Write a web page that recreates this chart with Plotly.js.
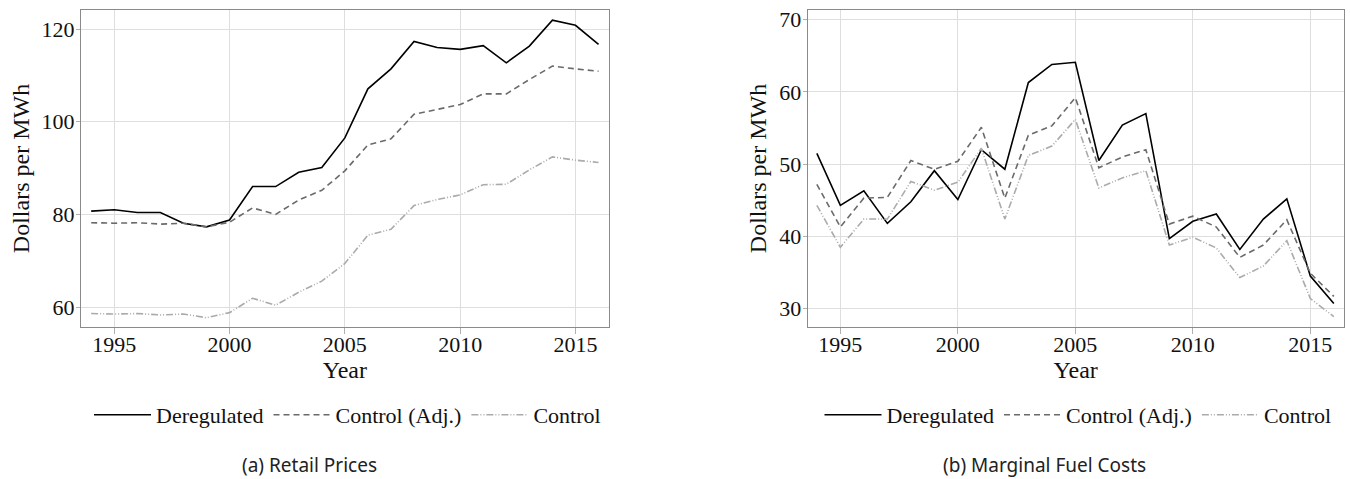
<!DOCTYPE html>
<html>
<head>
<meta charset="utf-8">
<script src="https://cdn.plot.ly/plotly-3.0.1.min.js"></script>
<style>html,body{margin:0;padding:0;background:#fff;}#chart{width:1350px;height:479px;}</style>
</head>
<body>
<div id="chart"></div>
<script>
// ---- data ----
const years = [1994,1995,1996,1997,1998,1999,2000,2001,2002,2003,2004,2005,2006,2007,2008,2009,2010,2011,2012,2013,2014,2015,2016];

// (a) Retail Prices
const retailDeregulated = [80.7,81.0,80.4,80.4,78.1,77.3,78.8,86.0,86.0,89.1,90.1,96.5,107.1,111.4,117.3,116.0,115.6,116.4,112.7,116.3,121.9,120.8,116.7];
const retailControlAdj  = [78.2,78.1,78.2,77.9,78.1,77.3,78.3,81.4,80.0,83.1,85.2,89.4,95.0,96.3,101.6,102.7,103.7,106.0,106.0,109.1,112.0,111.4,110.9];
const retailControl     = [58.6,58.5,58.6,58.3,58.5,57.7,58.8,61.9,60.4,63.2,65.6,69.4,75.5,76.8,81.9,83.2,84.2,86.4,86.5,89.6,92.4,91.7,91.2];

// (b) Marginal Fuel Costs
const fuelDeregulated = [51.5,44.3,46.3,41.8,44.8,49.1,45.1,52.0,49.3,61.3,63.8,64.1,50.5,55.4,57.0,39.7,42.1,43.1,38.2,42.4,45.2,34.5,30.7];
const fuelControlAdj  = [47.2,41.3,45.3,45.4,50.5,49.3,50.4,55.1,45.3,54.0,55.3,59.2,49.5,51.0,52.0,41.7,42.8,41.3,37.1,38.8,42.3,34.9,31.7];
const fuelControl     = [44.3,38.5,42.4,42.4,47.6,46.4,47.5,52.2,42.4,51.2,52.5,56.2,46.7,48.1,49.1,38.8,39.9,38.4,34.3,35.9,39.4,31.4,28.9];

const seriesNames = ["Deregulated","Control (Adj.)","Control"];
const xTicks = [1995,2000,2005,2010,2015];
const captions = ["(a) Retail Prices","(b) Marginal Fuel Costs"];
const yTitle = "Dollars per MWh";
const xTitle = "Year";

// ---- styles ----
const lineStyles = [
  {color:"#000000", width:1.6, dash:"solid"},
  {color:"#6a6a6a", width:1.6, dash:"6px,4px"},
  {color:"#ababab", width:1.6, dash:"7px,2px,1px,2px,1px,2px"}
];
const serif = "Liberation Serif";

function mk(y, i, xa, ya, leg){
  return {x: years, y: y, name: seriesNames[i], type:"scatter", mode:"lines",
    line: lineStyles[i], xaxis: xa, yaxis: ya, legend: leg, hoverinfo:"x+y+name"};
}

const data = [
  mk(retailDeregulated,0,"x","y","legend"),
  mk(retailControlAdj,1,"x","y","legend"),
  mk(retailControl,2,"x","y","legend"),
  mk(fuelDeregulated,0,"x2","y2","legend2"),
  mk(fuelControlAdj,1,"x2","y2","legend2"),
  mk(fuelControl,2,"x2","y2","legend2")
];

function xax(dom, anchor, range){
  return {domain: dom, anchor: anchor, range: range, tickvals: xTicks,
    showgrid:true, gridcolor:"#dedede", gridwidth:1, zeroline:false,
    showline:true, linecolor:"#8a8a8a", linewidth:1, mirror:true,
    ticks:"outside", ticklen:6, tickcolor:"#b0b0b0", tickwidth:1, ticklabelstandoff:-8,
    tickfont:{family:serif, size:22, color:"#111"},
    title:{text:xTitle, font:{family:serif, size:24, color:"#111"}, standoff:0}};
}
function yax(dom, anchor, range, dtick){
  return {domain: dom, anchor: anchor, range: range, dtick: dtick, tick0: 0,
    showgrid:true, gridcolor:"#dedede", gridwidth:1, zeroline:false,
    showline:true, linecolor:"#8a8a8a", linewidth:1, mirror:true,
    ticks:"outside", ticklen:4, tickcolor:"#b0b0b0", tickwidth:1, ticklabelstandoff:-3,
    tickfont:{family:serif, size:22, color:"#111"},
    title:{text:yTitle, font:{family:serif, size:24, color:"#111"}, standoff:5}};
}

const H = 479, W = 1350;
const yDom = [1-327/H, 1-10/H];

const legendBase = {orientation:"h", xanchor:"center", yanchor:"middle", y: 1-415/H,
  font:{family:serif, size:22, color:"#111"}, bgcolor:"rgba(0,0,0,0)", itemwidth:57,
  traceorder:"normal", itemclick:false, itemdoubleclick:false};

const layout = {
  width: W, height: H,
  margin:{l:0,r:0,t:0,b:0},
  font:{family:serif, size:22, color:"#111"},
  paper_bgcolor:"#fff", plot_bgcolor:"#fff",
  showlegend:true,
  xaxis: xax([81/W, 608.7/W], "y", [1993.56, 2016.44]),
  yaxis: yax(yDom, "x", [55.7, 124.1], 20),
  xaxis2: xax([807.7/W, 1343.7/W], "y2", [1993.61, 2016.42]),
  yaxis2: yax(yDom, "x2", [27.46, 71.34], 10),
  legend: Object.assign({}, legendBase, {x: 347.5/W}),
  legend2: Object.assign({}, legendBase, {x: 1078/W}),
  annotations: [
    {text: captions[0], x: 309/W, y: 1-465/H, xref:"paper", yref:"paper", showarrow:false,
      xanchor:"center", yanchor:"middle", font:{family:"Noto Sans", size:19, color:"#222"}},
    {text: captions[1], x: 1044/W, y: 1-465/H, xref:"paper", yref:"paper", showarrow:false,
      xanchor:"center", yanchor:"middle", font:{family:"Noto Sans", size:19, color:"#222"}}
  ]
};

Plotly.newPlot("chart", data, layout, {staticPlot:true, displayModeBar:false});
</script>
</body>
</html>
